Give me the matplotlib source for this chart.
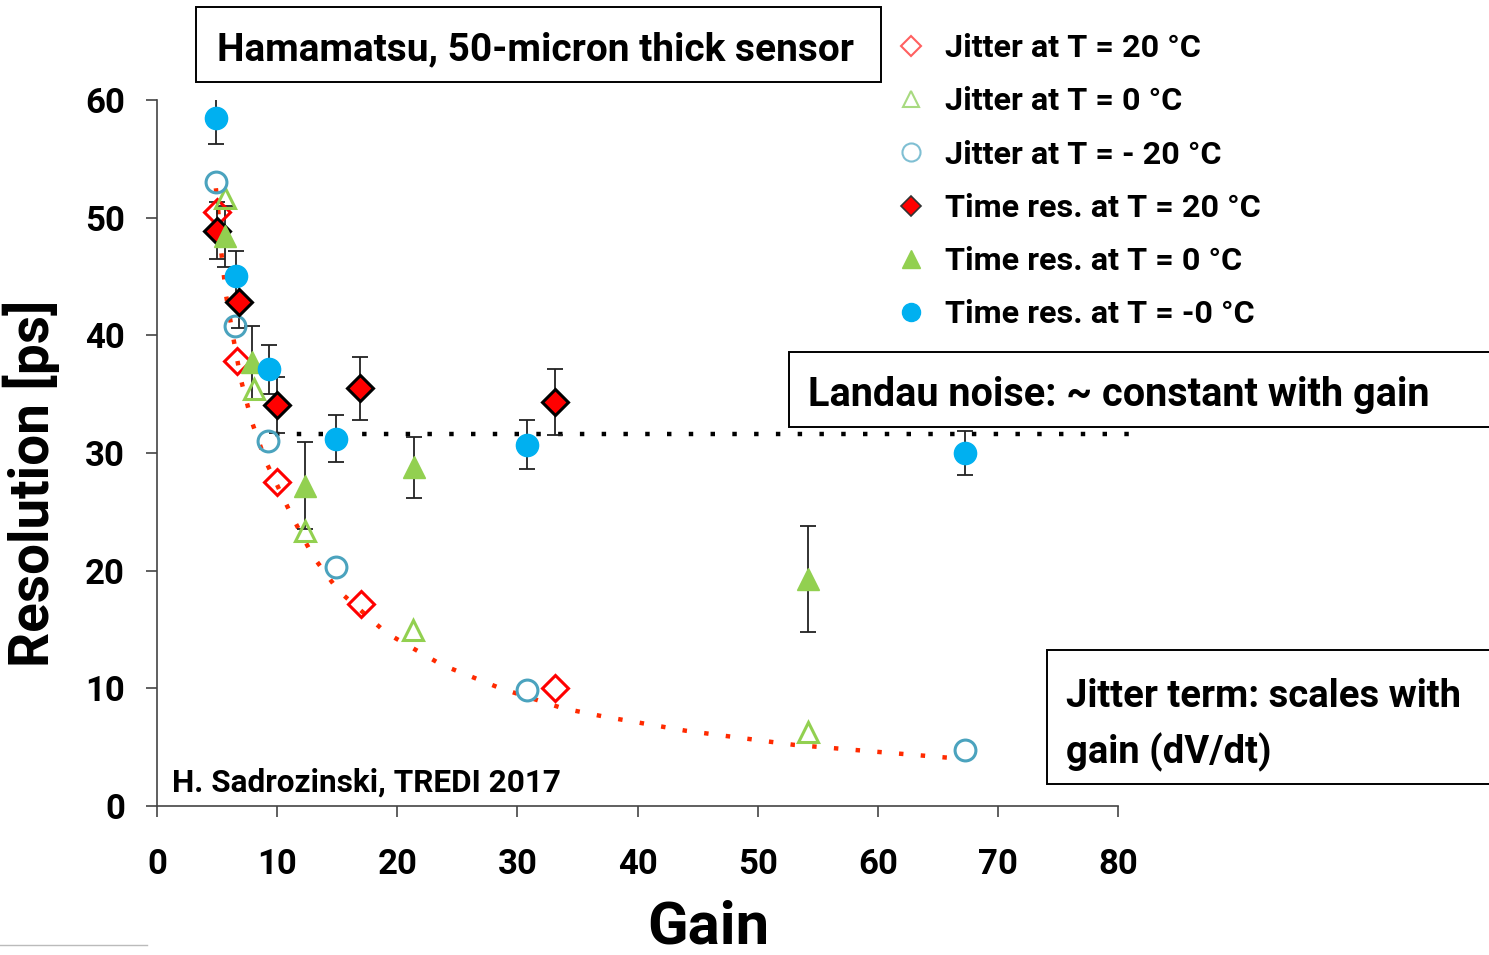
import numpy as np
import matplotlib
matplotlib.use("Agg")
import matplotlib.pyplot as plt
from matplotlib.lines import Line2D
from matplotlib.patches import Rectangle

plt.rcParams['font.family'] = ['Roboto', 'DejaVu Sans']
plt.rcParams['font.weight'] = 'bold'

# ---- data ----
jit20_x = [5.0, 6.7, 10.0, 17.0, 33.1]
jit20_y = [50.5, 37.8, 27.5, 17.2, 10.0]

jit0_x = [5.7, 8.1, 12.3, 21.3, 54.2]
jit0_y = [51.7, 35.4, 23.4, 15.0, 6.3]

jitm20_x = [4.9, 6.5, 9.2, 14.9, 30.8, 67.3]
jitm20_y = [53.0, 40.8, 31.0, 20.3, 9.9, 4.8]

tr20_x = [5.0, 6.8, 10.0, 16.9, 33.1]
tr20_y = [48.9, 42.8, 34.1, 35.5, 34.3]
tr20_e = [2.4, 2.2, 2.4, 2.7, 2.8]

tr0_x = [5.7, 7.9, 12.3, 21.4, 54.2]
tr0_y = [48.4, 37.7, 27.2, 28.8, 19.3]
tr0_e = [2.6, 3.1, 3.7, 2.6, 4.5]

trm20_x = [4.9, 6.6, 9.3, 14.9, 30.8, 67.3]
trm20_y = [58.5, 45.0, 37.1, 31.2, 30.7, 30.0]
trm20_e = [2.2, 2.2, 2.1, 2.0, 2.1, 1.9]

# jitter trend line (dotted red)
trend_x = [4.9, 5.1, 5.36, 5.75, 6.35, 6.97, 7.88, 9.05, 11.3, 13.0, 15.1,
           19.1, 23.7, 28.6, 33.8, 37.2, 44.0, 53.0, 60.0, 67.1]
trend_y = [52.5, 50.6, 47.0, 43.4, 39.8, 36.3, 32.7, 29.3, 24.5, 21.2, 18.3,
           14.7, 12.0, 10.0, 8.3, 7.6, 6.4, 5.2, 4.6, 4.0]

landau_level = 31.6
landau_x = [9.8, 80.9]

x_ticks = [0, 10, 20, 30, 40, 50, 60, 70, 80]
y_ticks = [0, 10, 20, 30, 40, 50, 60]

legend_labels = ["Jitter at T = 20 \u00b0C", "Jitter at T = 0 \u00b0C",
                 "Jitter at T = - 20 \u00b0C", "Time res. at T = 20 \u00b0C",
                 "Time res. at T = 0 \u00b0C", "Time res. at T = -0 \u00b0C"]

# ---- figure ----
W, H = 1489, 955
fig = plt.figure(figsize=(W / 100, H / 100), dpi=100)
ax = fig.add_axes([157 / W, 1 - 806 / H, (1118 - 157) / W, (806 - 100) / H])

RED = '#FF0000'
GREEN = '#92D050'
BLUE = '#00B0F0'
TEAL = '#4BA3BE'

ax.plot(trend_x, trend_y, color='#FF2A00', lw=3.2, ls=(0, (1, 3.9)),
        zorder=2)

# Landau constant line
ax.plot(landau_x, [landau_level, landau_level], color='black', lw=3.2,
        ls=(0, (1, 3.9)), zorder=2, clip_on=False)

# error bars
for xx, yy, ee in [(tr20_x, tr20_y, tr20_e), (tr0_x, tr0_y, tr0_e),
                   (trm20_x, trm20_y, trm20_e)]:
    ax.errorbar(xx, yy, yerr=ee, fmt='none', ecolor='#222222', elinewidth=1.3,
                capsize=6, capthick=1.3, zorder=3)

ax.plot(jit20_x, jit20_y, 'D', ms=13, mfc='none', mec=RED, mew=2.2, zorder=4)
ax.plot(jit0_x, jit0_y, '^', ms=15, mfc='none', mec=GREEN, mew=2.2, zorder=4)
ax.plot(jitm20_x, jitm20_y, 'o', ms=15, mfc='none', mec=TEAL, mew=2.2, zorder=4)
ax.plot(tr20_x, tr20_y, 'D', ms=13, mfc=RED, mec='black', mew=2.2, zorder=5)
ax.plot(tr0_x, tr0_y, '^', ms=16, mfc=GREEN, mec=GREEN, mew=1, zorder=5)
ax.plot(trm20_x, trm20_y, 'o', ms=16, mfc=BLUE, mec=BLUE, mew=1, zorder=6)

ax.set_xlim(0, 80)
ax.set_ylim(0, 60)
ax.set_xticks(x_ticks)
ax.set_yticks(y_ticks)
ax.tick_params(axis='both', direction='out', length=8, width=1.2,
               color='#444444', labelsize=25)
ax.tick_params(axis='x', pad=22)
ax.tick_params(axis='y', pad=15)
for lab in ax.get_xticklabels() + ax.get_yticklabels():
    lab.set_fontweight('bold')
for s in ['top', 'right']:
    ax.spines[s].set_visible(False)
for s in ['left', 'bottom']:
    ax.spines[s].set_color('#444444')
    ax.spines[s].set_linewidth(1.2)

ax.set_xlabel('Gain', fontsize=43, fontweight='bold', va='baseline')
ax.xaxis.set_label_coords((708 - 157) / 961, (806 - 943) / 706)
ax.set_ylabel('Resolution [ps]', fontsize=39.5, fontweight='bold')
ax.yaxis.set_label_coords((60 - 157) / 961, (806 - 483) / 706)

# legend
leg_handles = [
    Line2D([], [], ls='none', marker='D', ms=10, mfc='none', mec='#FF6060', mew=1.5),
    Line2D([], [], ls='none', marker='^', ms=12, mfc='none', mec='#A8DA80', mew=1.5),
    Line2D([], [], ls='none', marker='o', ms=13, mfc='none', mec='#7FBFD3', mew=1.5),
    Line2D([], [], ls='none', marker='D', ms=10, mfc=RED, mec='#333333', mew=1.2),
    Line2D([], [], ls='none', marker='^', ms=13, mfc=GREEN, mec=GREEN, mew=1),
    Line2D([], [], ls='none', marker='o', ms=13, mfc=BLUE, mec=BLUE, mew=1),
]
fig.legend(leg_handles, legend_labels, loc='upper left',
           bbox_to_anchor=(879 / W, 1 - 20 / H), frameon=False,
           prop={'size': 23.3, 'weight': 'bold'}, labelspacing=0.72,
           handletextpad=0.45, handlelength=1.2, borderaxespad=0)


# annotation boxes (figure-pixel rectangles, may run past the right edge)
def fig_box(x0, y0, x1, y1):
    fig.add_artist(Rectangle((x0 / W, 1 - y1 / H), (x1 - x0) / W,
                             (y1 - y0) / H, transform=fig.transFigure,
                             fc='white', ec='black', lw=1.4, zorder=3))


fig_box(196, 7, 881, 82)
fig_box(789, 352, 1500, 427)
fig_box(1047, 650, 1500, 784)

fig.text(217 / W, 1 - 50 / H, 'Hamamatsu, 50-micron thick sensor', fontsize=28,
         fontweight='bold', va='center', ha='left', zorder=4)
fig.text(808 / W, 1 - 395 / H, 'Landau noise: ~ constant with gain',
         fontsize=28.5, fontweight='bold', va='center', ha='left', zorder=4)
fig.text(1066 / W, 1 - 725 / H, 'Jitter term: scales with\ngain (dV/dt)',
         fontsize=27.5, fontweight='bold', va='center', ha='left',
         linespacing=1.55, zorder=4)
fig.text(172 / W, 1 - 783 / H, 'H. Sadrozinski, TREDI 2017', fontsize=22.7,
         fontweight='bold', va='center', ha='left')

fig.add_artist(Line2D([0, 147 / W], [1 - 945 / H, 1 - 945 / H],
                      color='#BBBBBB', lw=1))

fig.savefig('out.png', dpi=100)
